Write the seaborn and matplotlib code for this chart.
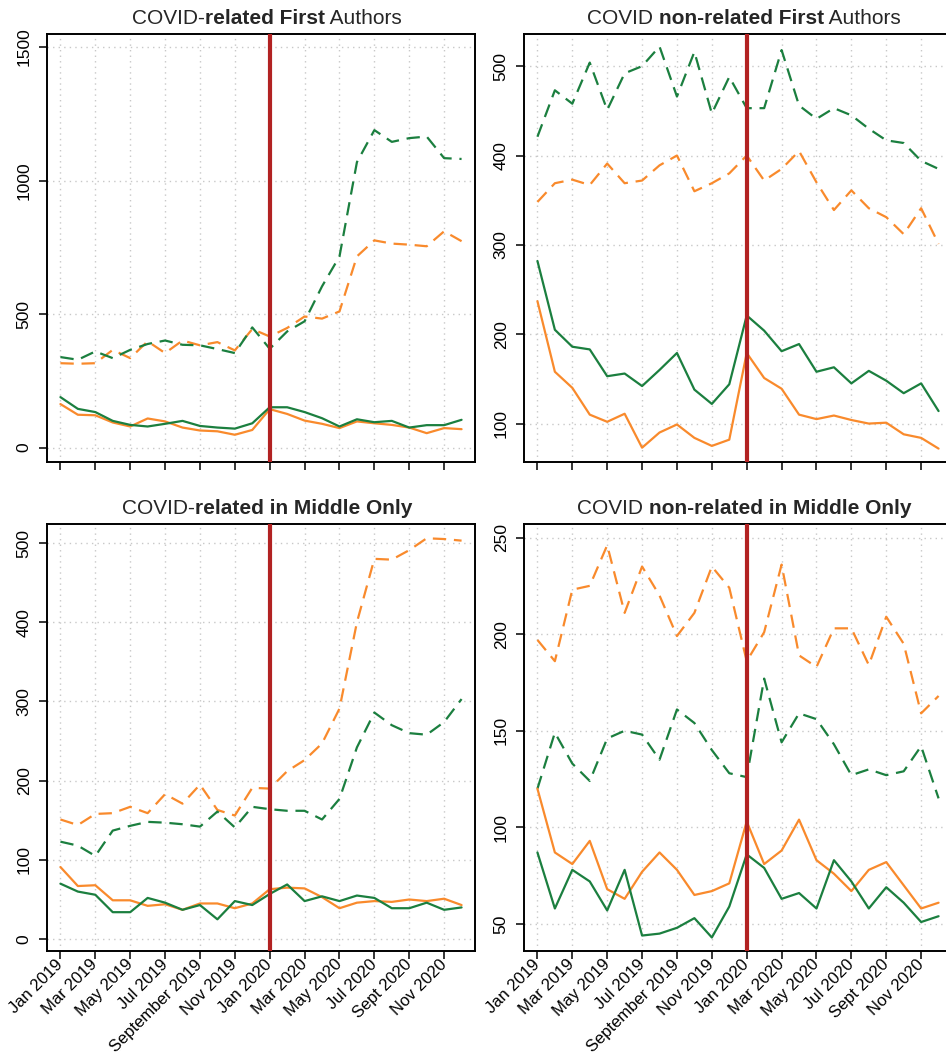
import numpy as np
import pandas as pd
import seaborn as sns
import matplotlib
matplotlib.use("Agg")
import matplotlib.pyplot as plt

# months Jan 2019 .. Dec 2020
months = pd.date_range("2019-01-01", "2020-12-01", freq="MS")
tick_labels = ["Jan 2019", "Mar 2019", "May 2019", "Jul 2019", "September 2019",
               "Nov 2019", "Jan 2020", "Mar 2020", "May 2020", "Jul 2020",
               "Sept 2020", "Nov 2020"]

# COVID-related First Authors
rel_first_green_dash = [339, 329, 360, 335, 366, 388, 401, 385, 383, 369, 354, 450,
                        370, 435, 473, 604, 716, 1069, 1189, 1145, 1159, 1165, 1084, 1081]
rel_first_orange_dash = [316, 314, 316, 366, 335, 398, 354, 401, 383, 395, 364, 444,
                         416, 448, 491, 483, 510, 716, 776, 764, 760, 754, 810, 773]
rel_first_green = [189, 145, 133, 100, 85, 79, 89, 100, 81, 75, 71, 91,
                   151, 151, 133, 110, 79, 106, 95, 100, 75, 84, 84, 104]
rel_first_orange = [163, 123, 121, 94, 79, 109, 98, 75, 64, 61, 48, 66,
                    144, 126, 101, 89, 73, 98, 91, 85, 75, 54, 73, 69]

# COVID non-related First Authors
non_first_green_dash = [421, 473, 458, 504, 451, 492, 500, 522, 466, 516, 447, 488,
                        453, 453, 518, 456, 441, 453, 445, 430, 417, 414, 394, 385]
non_first_orange_dash = [348, 369, 373, 367, 391, 369, 372, 389, 400, 360, 369, 380,
                         400, 372, 385, 405, 370, 339, 361, 341, 331, 312, 341, 301]
non_first_green = [282, 205, 186, 183, 153, 156, 142, 160, 179, 138, 122, 144,
                   221, 204, 181, 189, 158, 163, 145, 159, 148, 134, 145, 114]
non_first_orange = [237, 158, 140, 110, 102, 111, 73, 90, 99, 84, 75, 82,
                    179, 151, 139, 110, 105, 109, 104, 100, 101, 88, 84, 72]

# COVID-related in Middle Only
rel_mid_orange_dash = [151, 144, 158, 159, 167, 159, 183, 171, 195, 163, 156, 191,
                       190, 212, 226, 247, 291, 400, 480, 479, 491, 506, 505, 503]
rel_mid_green_dash = [123, 118, 105, 137, 143, 148, 147, 145, 142, 161, 141, 167,
                      164, 162, 162, 151, 177, 242, 286, 270, 260, 258, 274, 303]
rel_mid_orange = [91, 67, 68, 49, 49, 42, 44, 37, 45, 45, 39, 45,
                  63, 65, 64, 53, 39, 46, 48, 47, 50, 48, 51, 43]
rel_mid_green = [70, 60, 56, 34, 34, 52, 46, 37, 43, 25, 48, 43,
                 57, 69, 48, 54, 48, 55, 52, 39, 39, 46, 37, 40]

# COVID non-related in Middle Only
non_mid_orange_dash = [197, 186, 223, 225, 246, 211, 235, 220, 199, 211, 235, 224,
                       186, 201, 236, 189, 183, 203, 203, 184, 209, 195, 159, 168]
non_mid_green_dash = [120, 149, 133, 124, 146, 150, 148, 135, 161, 154, 140, 128,
                      126, 177, 144, 159, 156, 143, 127, 130, 127, 129, 142, 115]
non_mid_orange = [120, 87, 81, 93, 68, 63, 77, 87, 78, 65, 67, 71,
                  103, 81, 88, 104, 83, 76, 67, 78, 82, 70, 58, 61]
non_mid_green = [87, 58, 78, 72, 57, 78, 44, 45, 48, 53, 43, 59,
                 86, 79, 63, 66, 58, 83, 72, 58, 69, 61, 51, 54]

GREEN = "#1b7f3f"
ORANGE = "#f98a2c"
RED = "#b22222"

sns.set_style("white")
plt.rcParams["font.family"] = ["Liberation Sans", "DejaVu Sans"]

W, H = 946, 1058
fig = plt.figure(figsize=(W / 100, H / 100), dpi=100)


def px_axes(left, top, width, height):
    return fig.add_axes([left / W, 1 - (top + height) / H, width / W, height / H])


panels = [
    dict(box=(47, 34, 428, 428),
         title=[("COVID-", "normal"), ("related First", "bold"), (" Authors", "normal")],
         series=[rel_first_green_dash, rel_first_orange_dash, rel_first_green, rel_first_orange],
         ylim=(-54, 1549), yticks=[0, 500, 1000, 1500], labels=False),
    dict(box=(524, 34, 428, 428),
         title=[("COVID ", "normal"), ("non-related First", "bold"), (" Authors", "normal")],
         series=[non_first_green_dash, non_first_orange_dash, non_first_green, non_first_orange],
         ylim=(57, 536), yticks=[100, 200, 300, 400, 500], labels=False),
    dict(box=(47, 524, 428, 427),
         title=[("COVID-", "normal"), ("related in Middle Only", "bold")],
         series=[rel_mid_green_dash, rel_mid_orange_dash, rel_mid_green, rel_mid_orange],
         ylim=(-15, 524), yticks=[0, 100, 200, 300, 400, 500], labels=True),
    dict(box=(524, 524, 428, 427),
         title=[("COVID ", "normal"), ("non-related in Middle Only", "bold")],
         series=[non_mid_green_dash, non_mid_orange_dash, non_mid_green, non_mid_orange],
         ylim=(36, 257), yticks=[50, 100, 150, 200, 250], labels=True),
]

idx = np.arange(len(months))
renderer = fig.canvas.get_renderer()

for p in panels:
    ax = px_axes(*p["box"])
    gd, od, gs, os_ = p["series"]
    dash = (0, (6, 3.5))
    sns.lineplot(x=idx, y=od, color=ORANGE, linestyle=dash, lw=1.6, ax=ax)
    sns.lineplot(x=idx, y=gd, color=GREEN, linestyle=dash, lw=1.6, ax=ax)
    sns.lineplot(x=idx, y=os_, color=ORANGE, lw=1.6, ax=ax)
    sns.lineplot(x=idx, y=gs, color=GREEN, lw=1.6, ax=ax)
    ax.axvline(12, color=RED, lw=3, zorder=5)

    ax.set_xlim(-0.77, 23.77)
    ax.set_ylim(*p["ylim"])
    ax.set_xticks(idx[::2])
    ax.set_yticks(p["yticks"])
    ax.grid(True, color="#c8c8c8", linestyle=(0, (1, 3)), lw=1)
    ax.set_xlabel("")
    ax.set_ylabel("")
    for s in ax.spines.values():
        s.set_visible(True)
        s.set_color("black")
        s.set_linewidth(1.4)
    ax.tick_params(axis="both", direction="out", length=6, width=1.1,
                   color="black", labelsize=12.5, labelcolor="black", pad=5,
                   bottom=True, left=True)
    for lab in ax.get_yticklabels():
        lab.set_rotation(90)
        lab.set_va("center")
    if p["labels"]:
        ax.set_xticklabels(tick_labels, rotation=45, ha="right", va="center",
                           rotation_mode="anchor", fontsize=12)
        ax.tick_params(axis="x", pad=2)
    else:
        ax.set_xticklabels([])

    # title with mixed bold pieces
    left, top, width, height = p["box"]
    pieces = []
    total = 0
    for txt, wt in p["title"]:
        t = fig.text(0, 0, txt, fontsize=15, fontweight=wt, va="baseline", ha="left")
        bb = t.get_window_extent(renderer)
        pieces.append((t, bb.width))
        total += bb.width
    cx = left + 428 / 2 + 6
    x = cx - total / 2
    base = 1 - (top - 10) / H
    for t, w in pieces:
        t.set_position((x / W, base))
        x += w

fig.savefig("out.png", dpi=100)
